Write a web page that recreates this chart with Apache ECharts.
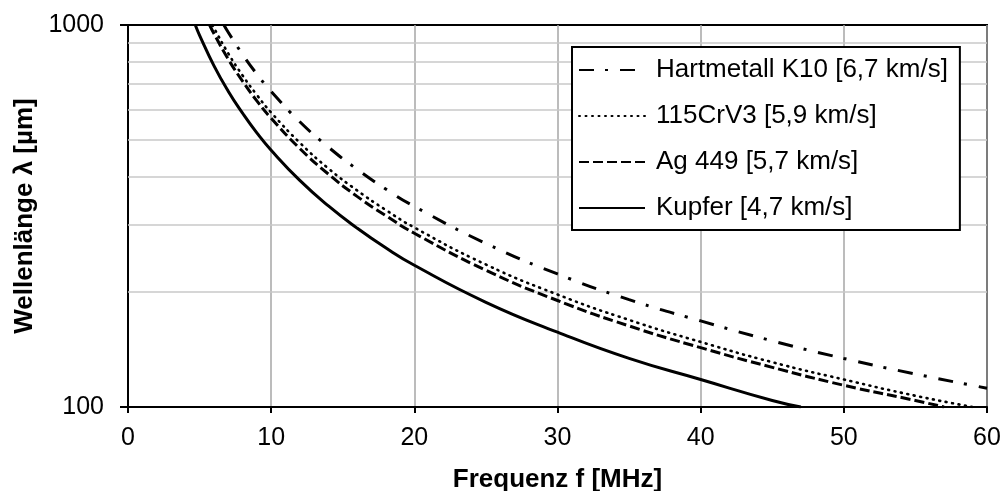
<!DOCTYPE html>
<html>
<head>
<meta charset="utf-8">
<script src="https://cdn.jsdelivr.net/npm/echarts@6/dist/echarts.min.js"></script>
<style>
  html, body { margin: 0; padding: 0; background: #fff; }
  #chart { width: 1006px; height: 491px; }
</style>
</head>
<body>
<div id="chart"></div>
<script>
// frequency in MHz, wavelength in µm
const freqKupfer = [4.7, 5, 6, 7, 8, 9, 10, 12, 14, 16, 18, 20, 25, 30, 35, 40, 45, 47]
const kupfer     = [1000, 940, 783, 671, 588, 522, 470, 392, 336, 294, 261, 235, 188, 157, 134, 118, 104, 100]

const freqAg = [5.7, 6, 7, 8, 9, 10, 12, 14, 16, 18, 20, 25, 30, 35, 40, 45, 50, 55, 57]
const ag449  = [1000, 950, 814, 713, 633, 570, 475, 407, 356, 317, 285, 228, 190, 163, 143, 127, 114, 104, 100]

const freqCrV = [5.9, 6, 7, 8, 9, 10, 12, 14, 16, 18, 20, 25, 30, 35, 40, 45, 50, 55, 59]
const crv3    = [1000, 983, 843, 738, 656, 590, 492, 421, 369, 328, 295, 236, 197, 169, 148, 131, 118, 107, 100]

const freqHm = [6.7, 7, 8, 9, 10, 12, 14, 16, 18, 20, 25, 30, 35, 40, 45, 50, 55, 60]
const hartmetall = [1000, 957, 838, 744, 670, 558, 479, 419, 372, 335, 268, 223, 191, 168, 149, 134, 122, 112]

const minorGrid = [200, 300, 400, 500, 600, 700, 800, 900]

const names = ['Hartmetall K10 [6,7 km/s]', '115CrV3 [5,9 km/s]', 'Ag 449 [5,7 km/s]', 'Kupfer [4,7 km/s]']

const font = 'Liberation Sans, Arial, sans-serif'

function pairs(xs, ys) {
  return xs.map((x, i) => [x, ys[i]])
}

function curve(name, xs, ys, type, width, cap) {
  return {
    name,
    type: 'line',
    data: pairs(xs, ys),
    smooth: true,
    symbol: 'none',
    z: 3,
    itemStyle: { color: '#000', opacity: 0 },
    lineStyle: { color: '#000', width, type, cap: cap || 'butt' }
  }
}

const chart = echarts.init(document.getElementById('chart'))
chart.setOption({
  animation: false,
  backgroundColor: '#fff',
  grid: {
    left: 128, right: 19, top: 25, bottom: 84,
    containLabel: false,
    outerBoundsMode: 'none',
    show: true, borderColor: '#000', borderWidth: 2
  },
  legend: {
    data: names,
    orient: 'vertical',
    z: 10,
    left: 572,
    top: 47,
    padding: [10, 12, 9, 6],
    itemWidth: 66,
    itemHeight: 14,
    itemGap: 20,
    borderColor: '#000',
    borderWidth: 2,
    backgroundColor: '#fff',
    itemStyle: { opacity: 0 },
    textStyle: { color: '#000', fontSize: 26, fontFamily: font, padding: [0, 0, 0, 6] }
  },
  xAxis: {
    type: 'value',
    min: 0, max: 60, interval: 10,
    name: 'Frequenz f [MHz]',
    nameLocation: 'middle',
    nameGap: 60,
    nameTextStyle: { color: '#000', fontSize: 26, fontWeight: 'bold', fontFamily: font },
    axisLine: { lineStyle: { color: '#000', width: 2 } },
    axisTick: { show: true, inside: false, length: 6, lineStyle: { color: '#000', width: 2 } },
    axisLabel: { color: '#000', fontSize: 25, fontFamily: font, margin: 19 },
    splitLine: { show: true, lineStyle: { color: '#a6a6a6', width: 1.5 } }
  },
  yAxis: {
    type: 'log',
    logBase: 10,
    min: 100, max: 1000,
    name: 'Wellenlänge λ [µm]',
    nameLocation: 'middle',
    nameGap: 90,
    nameTextStyle: { color: '#000', fontSize: 26, fontWeight: 'bold', fontFamily: font },
    axisLine: { lineStyle: { color: '#000', width: 2 } },
    axisTick: { show: true, inside: false, length: 8, lineStyle: { color: '#000', width: 2 } },
    axisLabel: { color: '#000', fontSize: 25, fontFamily: font, margin: 24, formatter: v => String(v) },
    splitLine: { show: false }
  },
  series: [
    {
      name: 'grid',
      type: 'line',
      data: [],
      z: 1,
      silent: true,
      markLine: {
        silent: true,
        symbol: 'none',
        z: 1,
        label: { show: false },
        lineStyle: { color: '#c8c8c8', width: 1.5, type: 'solid' },
        data: minorGrid.map(v => ({ yAxis: v }))
      }
    },
    curve(names[0], freqHm, hartmetall, [15, 11, 3, 12], 3),
    curve(names[1], freqCrV, crv3, [1, 5.5], 2.6, 'round'),
    curve(names[2], freqAg, ag449, [10, 4], 3),
    curve(names[3], freqKupfer, kupfer, 'solid', 3)
  ]
})
</script>
</body>
</html>
